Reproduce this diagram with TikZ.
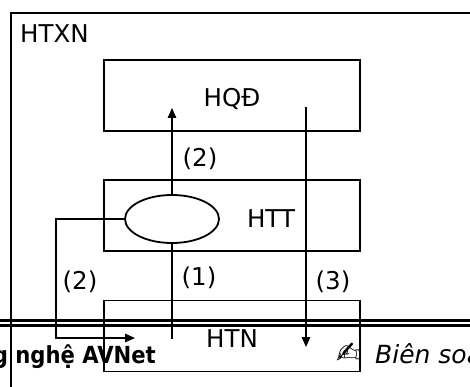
\documentclass[tikz,border=0pt]{standalone}
\usepackage{fontspec}
\usepackage{graphicx}
\setmainfont{DejaVu Sans}
\usetikzlibrary{arrows.meta,shapes.geometric}
\begin{document}
\begin{tikzpicture}[x=1pt,y=-1pt,
  boxstyle/.style={draw,line width=1.9pt,minimum width=256pt,minimum height=71pt,inner sep=0pt},
  lbl/.style={font=\fontsize{24.5}{28}\selectfont,inner sep=0pt,anchor=base},
  conn/.style={line width=1.5pt},
  arr/.style={conn,-{Triangle[length=10pt,width=8.5pt]}}]
\useasboundingbox (0,0) rectangle (470,387);
\clip (0,0) rectangle (470,387);
% outer frame
\node[draw,line width=2pt,minimum width=480pt,minimum height=400pt,inner sep=0pt,anchor=north west] (outer) at (10,12) {};
\node[lbl,anchor=base west] (htxn) at (20,43) {HTXN};
% boxes
\node[boxstyle] (hqd) at (232,95.7) {};
\node[boxstyle] (htt) at (232,215.8) {};
\node[boxstyle] (htn) at (232,336) {};
\node[lbl] (thqd) at (232,107) {HQĐ};
\node[lbl] (thtt) at (271,227) {HTT};
\node[lbl] (thtn) at (232,347) {HTN};
% ellipse
\node[draw,ellipse,line width=1.8pt,minimum width=94pt,minimum height=48pt,inner sep=0pt] (ell) at (172,219) {};
% free ends
\coordinate (up2) at (172,108);
\coordinate (dn1) at (172,339);
\coordinate (s3) at (306,107);
\coordinate (e3) at (306,347);
\coordinate (lc) at (56,338);
\coordinate (le) at (135,338);
% connectors
\draw[arr] (ell.north) -- (up2);
\draw[conn] (ell.south) -- (dn1);
\draw[arr] (s3) -- (e3);
\draw[arr] (ell.west) -| (lc) -- (le);
% labels
\node[lbl] (l2a) at (200,167) {(2)};
\node[lbl] (l2b) at (80,289) {(2)};
\node[lbl] (l1) at (199,285) {(1)};
\node[lbl] (l3) at (333,289) {(3)};
% footer
\draw[line width=2.2pt] (0,320.5) -- (470,320.5);
\draw[line width=2.2pt] (0,325.5) -- (470,325.5);
\node[font=\fontsize{23.5}{27}\selectfont\bfseries,inner sep=0pt,anchor=base east] (foot1) at (156,363) {\scalebox{0.9}[1]{g nghệ AVNet}};
\node[font=\fontsize{30}{34}\selectfont,inner sep=0pt,anchor=base] (pen) at (349,363) {✍};
\node[font=\fontsize{25}{29}\selectfont\itshape,inner sep=0pt,anchor=base west] (foot2) at (375,363) {Biên soạ};
\end{tikzpicture}
\end{document}
